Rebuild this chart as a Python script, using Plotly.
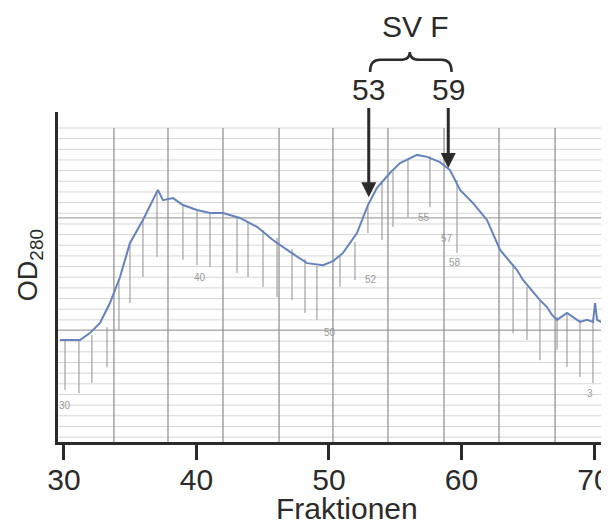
import plotly.graph_objects as go

# ---- data ----
fraction = [29.70, 31.21, 31.96, 32.72, 33.47, 34.23, 34.98, 35.96, 37.09, 37.47,
            38.23, 38.98, 40.04, 41.02, 42.00, 43.28, 44.57, 45.77, 47.06, 48.34,
            49.55, 50.30, 51.06, 52.11, 52.94, 53.62, 54.60, 55.36, 56.64, 57.40,
            58.38, 59.13, 59.89, 60.87, 61.92, 62.91, 64.19, 64.64, 65.92, 66.45,
            66.83, 67.21, 67.96, 68.42, 68.94, 69.47, 69.92, 70.08, 70.23, 70.68]
od280 = [0.309, 0.309, 0.330, 0.361, 0.421, 0.500, 0.603, 0.673, 0.764, 0.733,
         0.739, 0.718, 0.703, 0.694, 0.694, 0.679, 0.652, 0.612, 0.576, 0.542,
         0.536, 0.548, 0.573, 0.633, 0.718, 0.770, 0.815, 0.845, 0.870, 0.864,
         0.848, 0.824, 0.764, 0.724, 0.673, 0.582, 0.521, 0.491, 0.430, 0.409,
         0.385, 0.370, 0.391, 0.379, 0.364, 0.370, 0.364, 0.421, 0.370, 0.361]

# fraction-collector marks hanging from the trace
mark_x = [30.08, 31.13, 32.11, 33.25, 34.15, 34.98, 35.96, 37.02, 38.98, 40.04,
          41.02, 43.06, 43.89, 45.02, 46.08, 47.21, 48.19, 49.09, 50.83, 51.96,
          52.94, 54.00, 54.83, 55.96, 57.62, 59.66, 63.89, 64.94, 65.92, 67.21,
          67.96, 68.94, 69.92]
mark_top = [0.309, 0.309, 0.324, 0.348, 0.491, 0.603, 0.673, 0.755, 0.718, 0.703,
            0.694, 0.682, 0.667, 0.642, 0.618, 0.585, 0.555, 0.533, 0.567, 0.606,
            0.718, 0.785, 0.818, 0.855, 0.867, 0.794, 0.539, 0.470, 0.430, 0.379,
            0.391, 0.370, 0.367]
mark_bottom = [0.158, 0.148, 0.179, 0.227, 0.339, 0.421, 0.500, 0.561, 0.552, 0.536,
               0.530, 0.512, 0.500, 0.470, 0.439, 0.430, 0.391, 0.370, 0.470, 0.491,
               0.633, 0.612, 0.652, 0.682, 0.712, 0.573, 0.330, 0.309, 0.248, 0.279,
               0.227, 0.197, 0.179]

# handwritten fraction numbers on the recorder paper
hand_labels = ["30", "40", "50", "52", "55", "57", "58", "3"]
hand_x = [30.1, 40.3, 50.1, 53.2, 57.2, 58.9, 59.5, 69.7]
hand_y = [0.112, 0.497, 0.333, 0.491, 0.679, 0.618, 0.545, 0.148]

# pooled fractions (SV F)
pool_start, pool_end = 53, 59
pool_start_y, pool_end_y = 0.742, 0.830

x_ticks = [30, 40, 50, 60, 70]

# ---- chart-paper styling ----
X0, X1 = 29.55, 71.13
PAPER_RIGHT = 70.83
PAPER_TOP = 0.9515
paper_vlines = [33.77, 37.85, 42.0, 46.23, 50.30, 54.45, 58.68, 62.83, 67.06, 70.6]
paper_hstep = 0.0323
paper_dark_h = [0.679, 0.339]

INK = "#2b2b2b"
FONT = "Liberation Sans, Arial, sans-serif"
LABEL_Y = 1.067   # height of the "53"/"59" labels (in y units)

fig = go.Figure()

shapes = []
k = 0
while PAPER_TOP - k * paper_hstep > 0.01:
    yy = PAPER_TOP - k * paper_hstep
    shapes.append(dict(type="line", xref="x", yref="y", x0=X0, x1=PAPER_RIGHT, y0=yy, y1=yy,
                       line=dict(color="#d6d6d6", width=1), layer="below"))
    k += 1
for yy in paper_dark_h:
    shapes.append(dict(type="line", xref="x", yref="y", x0=X0, x1=PAPER_RIGHT, y0=yy, y1=yy,
                       line=dict(color="#a8a8a8", width=1.2), layer="below"))
for xx in paper_vlines:
    shapes.append(dict(type="line", xref="x", yref="y", x0=xx, x1=xx, y0=0, y1=PAPER_TOP,
                       line=dict(color="#8c8c8c", width=1.2), layer="below"))

# brace above the two arrows
mid = (pool_start + pool_end) / 2 + 0.1
a, b = pool_start + 0.1, pool_end + 0.25
yl, ym, yt = 1.121, 1.158, 1.182
brace = (f"M {a},{yl} Q {a},{ym} {a+0.75},{ym} L {mid-0.75},{ym} Q {mid},{ym} {mid},{yt} "
         f"Q {mid},{ym} {mid+0.75},{ym} L {b-0.75},{ym} Q {b},{ym} {b},{yl}")
shapes.append(dict(type="path", xref="x", yref="paper", path=brace,
                   line=dict(color=INK, width=2.5)))

# fraction marks
mx, my = [], []
for x, t, bt in zip(mark_x, mark_top, mark_bottom):
    mx += [x, x, None]
    my += [t, bt, None]
fig.add_trace(go.Scatter(x=mx, y=my, mode="lines", line=dict(color="#8f8f8f", width=1),
                         hoverinfo="skip", showlegend=False))

# absorbance trace
fig.add_trace(go.Scatter(x=fraction, y=od280, mode="lines",
                         line=dict(color="#6682bc", width=2), showlegend=False))

annotations = []
for t, x, y in zip(hand_labels, hand_x, hand_y):
    annotations.append(dict(x=x, y=y, xref="x", yref="y", text=t, showarrow=False,
                            font=dict(size=10, color="#9a9a9a", family=FONT)))

for x, y in [(pool_start, pool_start_y), (pool_end, pool_end_y)]:
    annotations.append(dict(x=x, y=y, xref="x", yref="y", text=str(x), showarrow=True,
                            axref="x", ayref="y", ax=x, ay=LABEL_Y,
                            arrowhead=2, arrowsize=1, arrowwidth=3,
                            arrowcolor=INK, standoff=0, startstandoff=0,
                            font=dict(size=30, color=INK, family=FONT)))

annotations.append(dict(x=mid + 0.45, y=1.258, xref="x", yref="paper", text="SV F",
                        showarrow=False, xanchor="center", yanchor="middle",
                        font=dict(size=30, color=INK, family=FONT)))
annotations.append(dict(x=0.5245, y=-0.2, xref="paper", yref="paper", text="Fraktionen",
                        showarrow=False, xanchor="center", yanchor="middle",
                        font=dict(size=30, color=INK, family=FONT)))
annotations.append(dict(x=-0.0508, y=0.536, xref="paper", yref="paper",
                        text="OD<sub>280</sub>", textangle=-90, showarrow=False,
                        xanchor="center", yanchor="middle",
                        font=dict(size=27, color=INK, family=FONT)))

# the page places the figure 8 px in from the window's top-left corner,
# so the figure is sized/margined to put the plot area where the reference has it
fig.update_layout(
    width=609, height=515,
    margin=dict(l=50, r=8, t=104, b=81, autoexpand=False),
    paper_bgcolor="white", plot_bgcolor="white",
    shapes=shapes, annotations=annotations,
    xaxis=dict(range=[X0, X1], tickvals=x_ticks, ticktext=[str(v) for v in x_ticks],
               ticks="outside", ticklen=15, tickwidth=3, tickcolor=INK,
               showline=True, linewidth=3, linecolor=INK, showgrid=False, zeroline=False,
               automargin=False, ticklabeloverflow="allow", ticklabelstandoff=-6,
               tickfont=dict(size=30, color=INK, family=FONT)),
    yaxis=dict(range=[0, 1], showline=True, linewidth=3, linecolor=INK,
               showticklabels=False, ticks="", showgrid=False, zeroline=False,
               automargin=False),
)

fig.write_html("out.html")
